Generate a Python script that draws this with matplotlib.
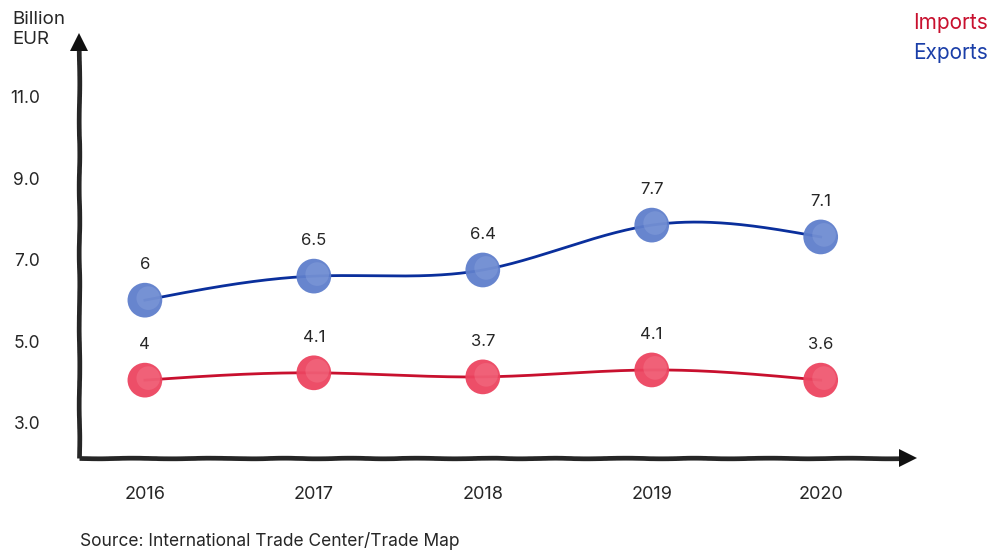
import numpy as np
import matplotlib
matplotlib.use("Agg")
import matplotlib.pyplot as plt

plt.rcParams["font.family"] = ["Inter", "DejaVu Sans"]

# data
years = ["2016", "2017", "2018", "2019", "2020"]
exports = [6.01, 6.60, 6.75, 7.85, 7.56]          # marker heights as drawn
imports = [4.05, 4.23, 4.13, 4.30, 4.05]
export_labels = ["6", "6.5", "6.4", "7.7", "7.1"]
import_labels = ["4", "4.1", "3.7", "4.1", "3.6"]
yticks = [3.0, 5.0, 7.0, 9.0, 11.0]

BLUE_LINE, BLUE_DOT, BLUE_HI = "#0a2f9c", "#5f7fcc", "#9cb1e2"
RED_LINE, RED_DOT, RED_HI = "#c8102e", "#ec4460", "#f7909f"
INK = "#262626"


def natural_spline(x, y, n=400):
    # plain natural cubic spline, enough for a smooth line through the dots
    x = np.asarray(x, float); y = np.asarray(y, float)
    k = len(x); h = np.diff(x)
    A = np.zeros((k, k)); b = np.zeros(k)
    A[0, 0] = A[-1, -1] = 1
    for i in range(1, k - 1):
        A[i, i - 1], A[i, i], A[i, i + 1] = h[i - 1], 2 * (h[i - 1] + h[i]), h[i]
        b[i] = 6 * ((y[i + 1] - y[i]) / h[i] - (y[i] - y[i - 1]) / h[i - 1])
    M = np.linalg.solve(A, b)
    xs = np.linspace(x[0], x[-1], n); ys = np.empty_like(xs)
    for j, t in enumerate(xs):
        i = min(np.searchsorted(x, t, side="right") - 1, k - 2)
        a, c = x[i + 1] - t, t - x[i]
        ys[j] = (M[i] * a**3 + M[i + 1] * c**3) / (6 * h[i]) \
            + (y[i] / h[i] - M[i] * h[i] / 6) * a + (y[i + 1] / h[i] - M[i + 1] * h[i] / 6) * c
    return xs, ys


W, H = 989, 550
fig = plt.figure(figsize=(W / 100, H / 100), dpi=100)
# axes box from the axis lines: x 79..917 px, y 36..458 px
ax = fig.add_axes([79 / W, 1 - 458 / H, (917 - 79) / W, (458 - 36) / H])
ax.set_xlim(-0.39, 4.57); ax.set_ylim(2.142, 12.485)
for s in ax.spines.values():
    s.set_visible(False)

x = np.arange(len(years))

# hand-drawn looking axes with arrow heads
for xs_, ys_ in ([(-0.39, -0.39), (2.142, 12.3)], [(-0.39, 4.47), (2.142, 2.142)]):
    ln, = ax.plot(xs_, ys_, color=INK, lw=3.4, solid_capstyle="butt", clip_on=False, zorder=2)
    ln.set_sketch_params(scale=0.3, length=90, randomness=3)
ax.plot([-0.39], [12.34], marker="^", ms=13, color="#111111", mew=0, clip_on=False, zorder=3)
ax.plot([4.515], [2.142], marker=">", ms=13, color="#111111", mew=0, clip_on=False, zorder=3)

for vals, labels, lc, dc, hc in ((exports, export_labels, BLUE_LINE, BLUE_DOT, BLUE_HI),
                                 (imports, import_labels, RED_LINE, RED_DOT, RED_HI)):
    sx, sy = natural_spline(x, vals)
    ax.plot(sx, sy, color=lc, lw=2, zorder=4)
    ax.scatter(x, vals, s=25**2, color=dc, alpha=0.95, edgecolors="none", zorder=5)
    ax.scatter(x + 0.02, np.array(vals) + 0.05, s=17**2, color=hc, alpha=0.3, edgecolors="none", zorder=6)
    for xi, v, lab in zip(x, vals, labels):
        ax.annotate(lab, (xi, v), xytext=(0, 20), textcoords="offset points",
                    ha="center", va="bottom", fontsize=12, color=INK, zorder=7)

ax.set_xticks(x); ax.set_xticklabels(years, fontsize=13, color=INK)
ax.set_yticks(yticks); ax.set_yticklabels([f"{t:.1f}" for t in yticks], fontsize=12.5, color=INK)
ax.tick_params(axis="x", length=0, pad=20)
ax.tick_params(axis="y", length=0, pad=28)

fig.text(12 / W, 1 - 11 / H, "Billion\nEUR", fontsize=13.5, color=INK, ha="left", va="top", linespacing=1.25)
fig.text(988 / W, 1 - 23 / H, "Imports", fontsize=15, color=RED_LINE, ha="right", va="center")
fig.text(988 / W, 1 - 53 / H, "Exports", fontsize=15, color="#1a3ea8", ha="right", va="center")
fig.text(80 / W, 1 - 541 / H, "Source: International Trade Center/Trade Map", fontsize=12.5, color=INK,
         ha="left", va="center")

fig.savefig("out.png", dpi=100)
